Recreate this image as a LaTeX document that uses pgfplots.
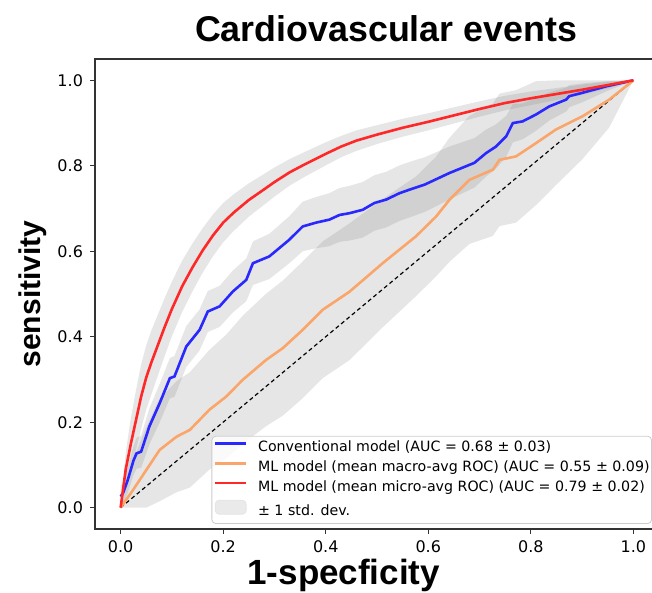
\documentclass[border=0pt]{standalone}
\usepackage{fontspec}
\setmainfont{DejaVu Sans}
\newfontfamily\arialfont{Liberation Sans}
\usepackage{pgfplots}
\usepackage{pgfplotstable}
\pgfplotsset{compat=1.18}
\usepgfplotslibrary{fillbetween}
\definecolor{cblue}{RGB}{40,40,255}
\definecolor{cred}{RGB}{255,40,40}
\definecolor{corange}{RGB}{250,165,105}

% micro-avg ROC (ML model): fpr, mean tpr, std
\pgfplotstableread{
x m s
0 0 0
0.01 0.09 0.04
0.02 0.15 0.06
0.03 0.205 0.07
0.04 0.26 0.075
0.05 0.305 0.075
0.06 0.34 0.075
0.07 0.372 0.072
0.085 0.42 0.068
0.1 0.465 0.064
0.12 0.518 0.06
0.14 0.562 0.056
0.16 0.602 0.052
0.18 0.637 0.049
0.2 0.667 0.046
0.22 0.69 0.043
0.25 0.72 0.039
0.28 0.745 0.036
0.3 0.762 0.034
0.33 0.785 0.031
0.36 0.804 0.029
0.4 0.828 0.027
0.43 0.845 0.025
0.46 0.859 0.024
0.5 0.873 0.022
0.55 0.889 0.021
0.6 0.903 0.02
0.65 0.918 0.019
0.7 0.933 0.018
0.75 0.947 0.017
0.8 0.958 0.016
0.85 0.968 0.014
0.9 0.978 0.012
0.95 0.989 0.008
1 1 0
}\redtab

% conventional model
\pgfplotstableread{
x m s
0 0.026 0.025
0.005 0.035 0.027
0.014 0.065 0.03
0.025 0.11 0.034
0.031 0.127 0.036
0.04 0.131 0.038
0.056 0.19 0.042
0.076 0.244 0.045
0.096 0.303 0.047
0.105 0.307 0.048
0.128 0.377 0.048
0.154 0.416 0.048
0.17 0.459 0.048
0.193 0.471 0.048
0.219 0.506 0.049
0.245 0.533 0.05
0.258 0.572 0.051
0.29 0.588 0.053
0.329 0.627 0.055
0.355 0.658 0.058
0.381 0.667 0.06
0.407 0.674 0.062
0.427 0.685 0.063
0.446 0.689 0.064
0.472 0.697 0.065
0.495 0.713 0.065
0.518 0.721 0.065
0.544 0.736 0.065
0.563 0.744 0.065
0.593 0.756 0.064
0.641 0.783 0.062
0.69 0.807 0.058
0.713 0.83 0.055
0.732 0.845 0.052
0.752 0.869 0.048
0.765 0.9 0.045
0.784 0.904 0.042
0.81 0.92 0.038
0.836 0.939 0.033
0.869 0.955 0.028
0.875 0.963 0.026
0.901 0.971 0.022
0.947 0.986 0.012
1 1 0
}\bluetab

% macro-avg ROC (ML model)
\pgfplotstableread{
x m s
0 0 0
0.024 0.041 0.07
0.05 0.088 0.1
0.076 0.135 0.12
0.109 0.166 0.13
0.135 0.182 0.135
0.173 0.229 0.14
0.206 0.26 0.145
0.238 0.299 0.15
0.284 0.346 0.155
0.316 0.373 0.158
0.355 0.416 0.16
0.394 0.463 0.16
0.446 0.505 0.16
0.48 0.54 0.155
0.511 0.572 0.15
0.545 0.605 0.145
0.576 0.635 0.14
0.615 0.681 0.14
0.641 0.72 0.145
0.68 0.767 0.15
0.726 0.791 0.155
0.739 0.814 0.155
0.771 0.822 0.155
0.81 0.853 0.145
0.849 0.885 0.13
0.901 0.916 0.1
0.953 0.955 0.065
1 1 0
}\orangetab

\begin{document}
\begin{tikzpicture}
\begin{axis}[
  scale only axis,
  width=282pt, height=235pt,
  xmin=-0.05, xmax=1.05, ymin=-0.05, ymax=1.05,
  xtick={0,0.2,0.4,0.6,0.8,1.0},
  ytick={0,0.2,0.4,0.6,0.8,1.0},
  xtick pos=bottom, ytick pos=left,
  tick align=outside,
  major tick length=2.5pt,
  tick style={black!80, line width=0.6pt},
  axis line style={black!80, line width=0.7pt},
  /pgf/number format/.cd, fixed, fixed zerofill, precision=1, assume math mode=true,
  /pgfplots/.cd,
  ticklabel style={font=\fontsize{8}{9.6}\selectfont},
  title={Cardiovascular events},
  every axis title/.style={at={(0.516,1)}, anchor=base, yshift=8.5pt, font=\arialfont\bfseries\fontsize{17.9}{21}\selectfont},
  xlabel={1-specficity},
  every axis x label/.style={at={(0.441,0)}, anchor=base, yshift=-27.5pt, font=\arialfont\bfseries\fontsize{17.5}{21}\selectfont},
  ylabel={sensitivity},
  every axis y label/.style={at={(-0.0975,0.5)}, anchor=base, rotate=90, font=\arialfont\bfseries\fontsize{15}{18}\selectfont},
  legend cell align=left,
  legend style={at={(1,0)}, anchor=south east, xshift=-3.5pt, yshift=2.5pt,
    draw=black!20, rounded corners=2pt, fill=white, fill opacity=0.8, text opacity=1,
    font=\fontsize{7.1}{8.5}\selectfont, row sep=2.6pt, inner xsep=1pt, inner ysep=2.4pt,
    nodes={inner xsep=0pt, inner ysep=0pt, text height=5.5pt, text depth=1.7pt},
    /tikz/every odd column/.append style={column sep=5.3pt}},
  legend image code/.code={\draw[#1] (1pt,2.2pt) -- (16.5pt,2.2pt);},
]
\coordinate (O) at (rel axis cs:0,0);
% std bands
\addplot[name path=ru, draw=none, forget plot] table[x=x, y expr={min(\thisrow{m}+\thisrow{s},1)}]{\redtab};
\addplot[name path=rl, draw=none, forget plot] table[x=x, y expr={max(\thisrow{m}-\thisrow{s},0)}]{\redtab};
\addplot[fill=gray, fill opacity=0.2, draw=none, forget plot] fill between[of=ru and rl];
\addplot[name path=bu, draw=none, forget plot] table[x=x, y expr={min(\thisrow{m}+\thisrow{s},1)}]{\bluetab};
\addplot[name path=bl, draw=none, forget plot] table[x=x, y expr={max(\thisrow{m}-\thisrow{s},0)}]{\bluetab};
\addplot[fill=gray, fill opacity=0.2, draw=none, forget plot] fill between[of=bu and bl];
\addplot[name path=ou, draw=none, forget plot] table[x=x, y expr={min(\thisrow{m}+\thisrow{s},1)}]{\orangetab};
\addplot[name path=ol, draw=none, forget plot] table[x=x, y expr={max(\thisrow{m}-\thisrow{s},0)}]{\orangetab};
\addplot[fill=gray, fill opacity=0.2, draw=none, forget plot] fill between[of=ou and ol];
% chance line
\addplot[black, line width=0.6pt, dash pattern=on 2pt off 1.5pt, forget plot] coordinates {(0,0) (1,1)};
% mean curves
\addplot[cblue, line width=1.3pt] table[x=x, y=m]{\bluetab};
\addlegendentry{Conventional model (AUC = 0.68 ± 0.03)}
\addplot[corange, line width=1.3pt] table[x=x, y=m]{\orangetab};
\addlegendentry{ML model (mean macro-avg ROC) (AUC = 0.55 ± 0.09)}
\addplot[cred, line width=1.3pt] table[x=x, y=m]{\redtab};
\addlegendentry{ML model (mean micro-avg ROC) (AUC = 0.79 ± 0.02)}
\addlegendimage{legend image code/.code={\fill[gray!20] (1pt,-1.3pt) rectangle (16.5pt,5.7pt);}}
\addlegendentry{± 1 std. dev.}
\end{axis}
\pgfresetboundingbox
\path[use as bounding box] ([shift={(-47.5pt,-32pt)}]O) rectangle ([shift={(278.5pt,264.5pt)}]O);
\end{tikzpicture}
\end{document}
